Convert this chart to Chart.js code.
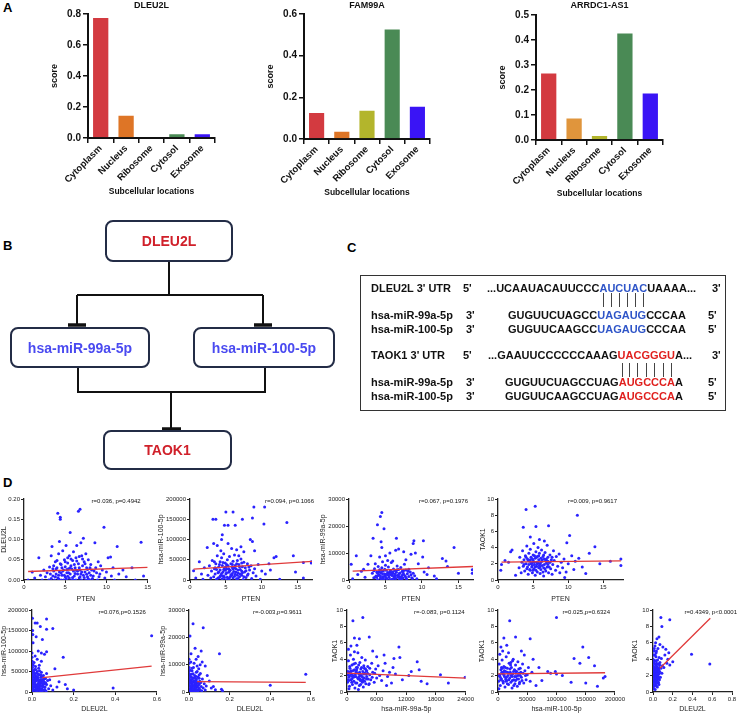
<!DOCTYPE html>
<html>
<head>
<meta charset="utf-8">
<script src="https://cdn.jsdelivr.net/npm/chart.js@4.4.0/dist/chart.umd.min.js"></script>
<style>
body { margin:0; width:739px; height:713px; position:relative; background:#fff; overflow:hidden; font-family:"Liberation Sans", Arial, sans-serif; }
canvas { position:absolute; }
.lbl { position:absolute; font-weight:bold; font-size:13px; color:#000; line-height:13px; }
.box { position:absolute; box-sizing:border-box; border:2.5px solid #232c46; border-radius:8px; display:flex; align-items:center; justify-content:center; font-weight:bold; font-size:14px; }
.seqbox { position:absolute; box-sizing:border-box; border:1.5px solid #333; }
.seq { position:absolute; font-weight:bold; font-size:11px; line-height:12px; white-space:pre; color:#111; }
.b { color:#2f55c8; }
.r { color:#e0201e; }
.pair { position:absolute; width:1px; background:#444; }
</style>
</head>
<body>

<div class="lbl" style="left:3px;top:1px">A</div>
<div class="lbl" style="left:3px;top:239px">B</div>
<div class="lbl" style="left:347px;top:241px">C</div>
<div class="lbl" style="left:3px;top:476px">D</div>

<!-- A: bar charts -->
<canvas id="barDleu" width="174" height="200" style="left:49px;top:0"></canvas>
<canvas id="barFam" width="173" height="200" style="left:265px;top:0"></canvas>
<canvas id="barArr" width="174" height="200" style="left:497px;top:0"></canvas>

<!-- B: regulatory axis -->
<svg width="739" height="713" style="position:absolute;left:0;top:0">
  <g stroke="#111" stroke-width="2" fill="none">
    <line x1="169" y1="261" x2="169" y2="295"/>
    <line x1="77" y1="295" x2="263" y2="295"/>
    <line x1="77" y1="295" x2="77" y2="324"/>
    <line x1="263" y1="295" x2="263" y2="324"/>
    <line x1="78" y1="367" x2="78" y2="392"/>
    <line x1="265" y1="367" x2="265" y2="392"/>
    <line x1="77" y1="392" x2="266" y2="392"/>
    <line x1="171" y1="392" x2="171" y2="428"/>
  </g>
  <g stroke="#111" stroke-width="3.5">
    <line x1="68" y1="325" x2="86" y2="325"/>
    <line x1="254" y1="325" x2="272" y2="325"/>
    <line x1="162" y1="429" x2="181" y2="429"/>
  </g>
</svg>
<div class="box" style="left:105px;top:220px;width:128px;height:42px;color:#d0202a">DLEU2L</div>
<div class="box" style="left:10px;top:327px;width:140px;height:41px;color:#4a4af0">hsa-miR-99a-5p</div>
<div class="box" style="left:193px;top:327px;width:142px;height:41px;color:#4a4af0">hsa-miR-100-5p</div>
<div class="box" style="left:103px;top:430px;width:129px;height:40px;color:#d0202a">TAOK1</div>

<!-- C: binding sites -->
<div class="seqbox" style="left:360px;top:275px;width:366px;height:136px"></div>
<div id="seqs"></div>

<!-- D: correlations -->
<canvas id="d1" width="152" height="111" style="left:0;top:492px"></canvas>
<canvas id="d2" width="159" height="111" style="left:157px;top:492px"></canvas>
<canvas id="d3" width="158" height="111" style="left:319px;top:492px"></canvas>
<canvas id="d4" width="148" height="111" style="left:479px;top:492px"></canvas>
<canvas id="e1" width="162" height="110" style="left:0;top:603px"></canvas>
<canvas id="e2" width="157" height="110" style="left:159px;top:603px"></canvas>
<canvas id="e3" width="144" height="110" style="left:331px;top:603px"></canvas>
<canvas id="e4" width="148" height="110" style="left:478px;top:603px"></canvas>
<canvas id="e5" width="108" height="110" style="left:631px;top:603px"></canvas>

<script>
// ---- A: subcellular location scores ----
const locations = ['Cytoplasm', 'Nucleus', 'Ribosome', 'Cytosol', 'Exosome'];
const dleu2lScore = [0.78, 0.15, 0.005, 0.03, 0.03];
const fam99aScore = [0.13, 0.04, 0.14, 0.53, 0.16];
const arrdc1Score = [0.27, 0.09, 0.02, 0.43, 0.19];

// ---- C: sequence rows: [label, end1, seq parts, end2] ----
const seqRows = [
    ['DLEU2L 3\' UTR', '5\'', [['...UCAAUACAUUCCC', ''], ['AUCUAC', 'b'], ['UAAAA...', '']], '3\''],
    ['hsa-miR-99a-5p', '3\'', [['GUGUUCUAGCC', ''], ['UAGAUG', 'b'], ['CCCAA', '']], '5\''],
    ['hsa-miR-100-5p', '3\'', [['GUGUUCAAGCC', ''], ['UAGAUG', 'b'], ['CCCAA', '']], '5\''],
    ['TAOK1 3\' UTR', '5\'', [['...GAAUUCCCCCCAAAG', ''], ['UACGGGU', 'r'], ['A...', '']], '3\''],
    ['hsa-miR-99a-5p', '3\'', [['GUGUUCUAGCCUAG', ''], ['AUGCCCA', 'r'], ['A', '']], '5\''],
    ['hsa-miR-100-5p', '3\'', [['GUGUUCAAGCCUAG', ''], ['AUGCCCA', 'r'], ['A', '']], '5\'']
];

// ---- D: correlation scatter data [x, y] ----
const ptenDleu2l = [
    [0.5,0.0],[1.0,0.02],[1.3,0.005],[1.8,0.055],[2.0,0.012],[2.2,0.0],[2.4,0.025],[2.6,0.008],[2.8,0.018],[3.0,0.0],
    [3.1,0.032],[3.3,0.06],[3.4,0.083],[3.5,0.01],[3.6,0.022],[3.7,0.0],[3.8,0.045],[3.9,0.015],[4.0,0.03],[4.1,0.165],
    [4.1,0.005],[4.2,0.065],[4.3,0.095],[4.3,0.02],[4.4,0.155],[4.4,0.15],[4.5,0.0],[4.5,0.038],[4.6,0.012],[4.7,0.072],
    [4.8,0.025],[4.8,0.0],[4.9,0.05],[5.0,0.008],[5.0,0.033],[5.1,0.085],[5.2,0.018],[5.2,0.0],[5.3,0.042],[5.4,0.028],
    [5.5,0.005],[5.5,0.06],[5.6,0.117],[5.6,0.015],[5.7,0.035],[5.8,0.0],[5.9,0.048],[6.0,0.022],[6.0,0.07],[6.1,0.01],
    [6.2,0.03],[6.3,0.0],[6.3,0.055],[6.4,0.085],[6.5,0.015],[6.6,0.17],[6.6,0.04],[6.7,0.005],[6.8,0.175],[6.8,0.025],
    [6.9,0.092],[7.0,0.0],[7.0,0.06],[7.1,0.035],[7.2,0.103],[7.2,0.012],[7.3,0.045],[7.4,0.02],[7.5,0.0],[7.5,0.065],
    [7.6,0.03],[7.7,0.008],[7.8,0.05],[7.9,0.018],[8.0,0.0],[8.1,0.038],[8.2,0.025],[8.4,0.01],[8.6,0.092],[8.7,0.03],
    [8.9,0.0],[9.0,0.045],[9.2,0.015],[9.5,0.025],[9.7,0.13],[9.8,0.005],[10.0,0.02],[10.2,0.055],[10.5,0.057],[10.6,0.01],
    [10.8,0.03],[11.0,0.0],[11.3,0.083],[11.5,0.015],[12.0,0.025],[12.4,0.008],[13.1,0.03],[13.5,0.0],[14.2,0.093],[14.5,0.01],
    [3.5,0.028],[4.2,0.012],[4.7,0.022],[5.1,0.004],[5.4,0.018],[5.8,0.027],[6.1,0.038],[6.5,0.022],[6.9,0.015],[7.3,0.006],
    [7.7,0.026],[8.3,0.004],[4.0,0.048],[5.3,0.055],[6.7,0.058],[3.2,0.015],[8.8,0.018],[9.3,0.035],
    [3.3,0.004],[3.6,0.035],[3.9,0.027],[4.2,0.003],[4.5,0.017],[4.9,0.012],[5.0,0.045],[5.3,0.009],[5.6,0.03],[5.9,0.006],
    [6.2,0.016],[6.4,0.047],[6.7,0.03],[7.0,0.02],[7.4,0.04],[7.8,0.003],[8.1,0.012],[8.5,0.022],[4.6,0.03],[5.7,0.052],
    [6.0,0.0],[6.8,0.008],[7.6,0.014],[3.8,0.008],[4.4,0.04],[5.2,0.026],[6.3,0.024],[7.1,0.052],[8.0,0.03],[9.1,0.008]
];
const ptenDleu2lFit = [[0.5, 0.021], [15, 0.031]];

const ptenMir100 = [
    [3.2,150000],[3.6,150000],[5.0,168000],[6.0,168000],[5.3,135000],[6.3,135000],[4.8,135000],[7.3,150000],[8.7,153000],[8.9,180000],
    [10.4,180000],[10.3,138000],[13.5,142000],[4.5,112000],[4.4,100000],[8.4,100000],[8.7,95000],[3.3,90000],[5.3,90000],[2.4,80000],
    [7.1,82000],[6.5,75000],[9.0,72000],[7.5,70000],[12.0,58000],[11.7,55000],[14.4,60000],[15.8,43000],[16.9,45000],[16.9,42000],
    [14.7,20000],[15.8,5000],[11.2,25000],[12.5,2000],[0.5,23000],[0.8,5000],[1.3,45000],[1.6,15000],[2.0,30000],[1.8,2000],
    [2.5,12000],[2.7,35000],[2.9,5000],[3.0,22000],[3.1,48000],[3.3,8000],[3.4,28000],[3.5,15000],[3.6,40000],[3.7,2000],
    [3.8,60000],[3.9,18000],[4.0,32000],[4.1,6000],[4.2,45000],[4.2,25000],[4.3,12000],[4.4,55000],[4.5,3000],[4.5,36000],
    [4.6,20000],[4.7,65000],[4.7,9000],[4.8,30000],[4.9,42000],[5.0,15000],[5.0,0],[5.1,27000],[5.2,50000],[5.2,7000],
    [5.3,35000],[5.4,19000],[5.5,58000],[5.5,2000],[5.6,24000],[5.7,40000],[5.8,11000],[5.9,31000],[6.0,46000],[6.0,5000],
    [6.1,21000],[6.2,62000],[6.3,14000],[6.3,36000],[6.4,28000],[6.5,3000],[6.6,48000],[6.7,17000],[6.8,38000],[6.9,8000],
    [7.0,26000],[7.1,52000],[7.2,12000],[7.3,33000],[7.4,1000],[7.5,44000],[7.6,20000],[7.7,30000],[7.8,6000],[8.0,40000],
    [8.1,15000],[8.3,25000],[8.5,35000],[8.6,4000],[8.8,18000],[9.0,28000],[9.2,10000],[9.5,38000],[9.8,2000],[10.0,22000],
    [10.5,15000],[11.0,40000],[4.3,72000],[5.8,78000],[3.8,85000],[6.8,60000],[4.0,20000],[4.6,10000],[5.1,38000],[5.6,8000],
    [6.2,30000],[6.7,4000],[7.2,22000],[3.4,45000],[5.9,16000],[4.9,24000],
    [3.5,30000],[3.9,5000],[4.1,38000],[4.4,16000],[4.7,26000],[5.0,33000],[5.3,4000],[5.5,22000],[5.7,13000],[6.0,27000],
    [6.2,9000],[6.5,40000],[6.7,25000],[7.0,15000],[7.2,42000],[7.5,8000],[7.8,23000],[8.2,32000],[4.8,6000],[5.9,38000],
    [6.6,12000],[7.3,18000],[4.2,9000],[5.1,18000],[6.4,20000],[3.7,26000],[8.0,12000],[4.6,43000],[5.4,28000],[6.9,33000]
];
const ptenMir100Fit = [[0.5, 27000], [17, 46000]];

const ptenMir99a = [
    [4.5,25000],[4.3,23500],[3.9,20500],[4.8,19000],[3.3,15500],[6.5,15500],[4.4,14200],[8.9,14500],[8.8,13500],[10.2,14500],
    [14.4,12000],[1.0,9000],[4.5,12000],[5.6,10000],[6.4,11000],[6.8,11500],[7.5,10500],[8.5,9500],[9.1,10000],[3.0,9000],
    [10.1,8500],[2.6,5800],[3.6,6000],[12.8,8000],[13.3,7000],[13.5,5000],[16.9,3800],[16.9,2500],[15.0,2500],[12.0,500],
    [11.7,1500],[10.7,2000],[0.3,5800],[0.5,500],[1.2,2000],[1.7,3200],[2.2,1000],[2.0,4000],[8.2,4000],[9.5,6000],
    [10.9,4500],[10.3,3000],[7.8,7500],
    [3.2,2500],[3.4,800],[3.5,4200],[3.7,1500],[3.8,3000],[3.9,200],[4.0,5000],[4.1,2000],[4.2,3800],[4.3,700],
    [4.4,2700],[4.5,4500],[4.6,1200],[4.7,3300],[4.8,100],[4.9,2200],[5.0,5500],[5.0,1600],[5.1,3600],[5.2,400],
    [5.3,2800],[5.4,4800],[5.5,1000],[5.6,3100],[5.7,2000],[5.8,6500],[5.9,300],[6.0,2400],[6.1,4100],[6.2,1400],
    [6.3,3500],[6.4,600],[6.5,2900],[6.6,5200],[6.7,1800],[6.8,3900],[6.9,200],[7.0,2600],[7.1,4600],[7.2,1100],
    [7.3,3200],[7.4,700],[7.5,2100],[7.6,5800],[7.7,1500],[7.8,3700],[7.9,400],[8.0,2300],[8.2,1300],[8.4,3000],
    [8.6,800],[8.8,2500],[9.0,1600],[9.3,500],[4.6,6800],[5.3,7200],[6.0,7000],[4.2,8500],[5.0,9000],[3.6,1000],
    [4.0,1700],[4.7,500],[5.5,2500],[6.2,900],[6.9,1300],[7.4,2800],[5.9,1700],[4.4,3500],
    [3.4,3400],[3.8,1100],[4.1,3000],[4.4,500],[4.6,2300],[4.9,4000],[5.1,800],[5.4,1800],[5.7,3400],[5.9,2600],
    [6.1,500],[6.4,1700],[6.6,3800],[6.9,2400],[7.2,300],[7.5,3500],[7.8,900],[8.1,3200],[8.5,1900],[4.3,1600],
    [5.2,2100],[6.0,3000],[6.7,1000],[7.3,1800],[3.9,2600],[4.8,1300],[5.6,200],[6.3,2200],[7.0,800],[8.7,600]
];
const ptenMir99aFit = [[0.5, 3300], [17, 5000]];

const ptenTaok1 = [
    [4.0,8.7],[5.3,9.1],[11.3,8.0],[5.4,6.6],[7.2,6.7],[3.6,6.5],[10.2,5.5],[4.6,5.3],[5.9,5.0],[6.6,4.8],
    [9.8,4.6],[13.8,4.1],[13.0,3.3],[17.5,2.6],[17.5,1.8],[2.0,3.7],[1.0,2.4],[0.5,1.9],[0.4,1.2],[1.5,2.2],
    [16.0,2.3],[14.5,2.0],[12.5,0.8],[12.0,1.6],[11.5,2.7],[9.5,0.3],[2.5,0.6],[1.8,3.5],
    [3.0,1.5],[3.1,2.8],[3.3,0.9],[3.4,2.2],[3.5,3.6],[3.6,1.7],[3.7,2.5],[3.8,1.1],[3.9,3.0],[4.0,2.0],
    [4.1,4.2],[4.1,1.4],[4.2,2.6],[4.3,0.7],[4.4,3.3],[4.4,1.9],[4.5,2.3],[4.6,1.2],[4.6,3.8],[4.7,2.8],
    [4.8,1.6],[4.8,2.1],[4.9,0.9],[5.0,3.1],[5.0,2.4],[5.1,1.4],[5.1,4.5],[5.2,1.9],[5.3,2.7],[5.3,0.6],
    [5.4,3.5],[5.5,1.7],[5.5,2.2],[5.6,1.0],[5.6,2.9],[5.7,4.0],[5.8,1.5],[5.8,2.5],[5.9,3.3],[6.0,0.8],
    [6.0,2.0],[6.1,1.3],[6.2,3.7],[6.2,2.3],[6.3,1.8],[6.4,2.9],[6.5,0.5],[6.5,1.5],[6.6,2.6],[6.7,3.4],
    [6.8,1.1],[6.9,2.1],[7.0,4.3],[7.0,1.6],[7.1,2.8],[7.2,0.9],[7.3,2.2],[7.4,3.1],[7.5,1.4],[7.6,2.5],
    [7.7,0.7],[7.8,1.9],[7.9,3.6],[8.0,2.4],[8.2,1.2],[8.3,2.9],[8.5,1.7],[8.7,3.2],[8.8,0.9],[9.0,2.2],
    [9.2,1.5],[9.4,2.6],[9.7,1.0],[10.0,2.0],[10.5,3.0],[10.8,1.3],[11.0,2.3],[4.3,2.4],[4.9,1.8],[5.2,3.0],
    [5.7,2.1],[6.1,2.7],[6.6,1.9],[7.1,2.3],[5.4,1.2],[6.4,1.0],
    [3.7,1.9],[4.0,2.8],[4.2,1.6],[4.5,1.3],[4.7,2.0],[4.9,2.6],[5.1,2.2],[5.3,1.6],[5.6,2.0],[5.8,3.0],
    [6.0,1.6],[6.3,2.5],[6.5,3.1],[6.7,1.4],[6.9,2.6],[7.1,1.9],[7.4,2.2],[7.7,2.8],[4.6,2.5],[5.5,2.8],
    [6.1,2.2],[6.8,2.4],[7.3,1.6],[5.0,1.2],[5.9,1.8]
];
const ptenTaok1Fit = [[0.5, 2.2], [17.5, 2.35]];

const dleu2lMir100 = [
    [0.002,180000],[0.07,178000],[0.015,168000],[0.025,168000],[0.04,160000],[0.07,153000],[0.1,155000],[0.003,150000],[0.02,135000],[0.005,120000],
    [0.05,128000],[0.004,140000],[0.07,98000],[0.06,92000],[0.045,95000],[0.15,85000],[0.11,57000],[0.575,137000],[0.39,10000],[0.16,18000],
    [0.13,25000],[0.17,8000],[0.2,5000],[0.1,5000],[0.12,12000],[0.085,30000],[0.09,15000],[0.07,45000],[0.06,20000],
    [0.0,95000],[0.0,85000],[0.001,75000],[0.0,68000],[0.002,60000],[0.0,55000],[0.001,48000],[0.0,42000],[0.003,38000],[0.0,33000],
    [0.001,28000],[0.0,22000],[0.002,18000],[0.0,12000],[0.001,8000],[0.0,3000],[0.0,0],
    [0.005,52000],[0.008,30000],[0.01,12000],[0.012,45000],[0.014,5000],[0.015,25000],[0.017,62000],[0.018,18000],[0.02,38000],[0.022,2000],
    [0.023,28000],[0.025,50000],[0.027,10000],[0.028,34000],[0.03,20000],[0.032,58000],[0.033,6000],[0.035,42000],[0.037,15000],[0.038,26000],
    [0.04,1000],[0.042,36000],[0.044,22000],[0.045,48000],[0.047,8000],[0.05,30000],[0.052,16000],[0.055,40000],[0.057,4000],[0.06,24000],
    [0.063,12000],[0.065,33000],[0.068,2000],[0.07,18000],[0.075,28000],[0.08,8000],[0.01,72000],[0.025,80000],[0.035,65000],[0.045,75000],
    [0.015,88000],[0.03,100000],[0.008,20000],[0.012,35000],[0.02,8000],[0.028,14000],[0.018,55000],[0.04,30000],
    [0.003,25000],[0.004,45000],[0.006,10000],[0.007,38000],[0.009,4000],[0.011,22000],[0.013,55000],[0.016,32000],[0.019,12000],[0.021,46000],
    [0.024,16000],[0.026,38000],[0.029,5000],[0.031,30000],[0.034,11000],[0.036,52000],[0.039,19000],[0.041,8000],[0.043,42000],[0.046,26000],
    [0.049,3000],[0.051,21000],[0.054,12000],[0.058,32000],[0.062,6000],[0.066,22000],[0.006,65000],[0.012,15000],[0.02,28000],[0.033,24000],
    [0.015,42000],[0.025,3000],[0.044,14000],[0.009,48000],[0.055,27000],[0.003,5000],[0.018,34000],[0.03,44000],[0.038,2000],[0.048,36000]
];
const dleu2lMir100Fit = [[0.05, 35000], [0.575, 63000]];

const dleu2lMir99a = [
    [0.005,20500],[0.02,25000],[0.07,23500],[0.15,14000],[0.08,9500],[0.575,6500],[0.4,2500],[0.16,1000],[0.165,500],[0.12,2000],
    [0.1,4000],[0.06,15000],[0.045,13000],[0.065,11000],[0.03,16000],[0.01,14000],[0.09,6000],[0.11,1500],[0.13,800],
    [0.0,12000],[0.0,10500],[0.001,9000],[0.0,7500],[0.002,6000],[0.0,5000],[0.001,3500],[0.0,2500],[0.0,1200],[0.001,300],
    [0.005,8000],[0.008,4500],[0.01,1500],[0.012,6500],[0.014,3000],[0.016,500],[0.018,5200],[0.02,2200],[0.022,9000],[0.024,3800],
    [0.026,1000],[0.028,6000],[0.03,2800],[0.032,200],[0.034,4200],[0.036,7200],[0.038,1800],[0.04,3400],[0.042,600],[0.044,5500],
    [0.046,2500],[0.048,8500],[0.05,1200],[0.053,3900],[0.056,6800],[0.06,2000],[0.063,400],[0.066,4800],[0.07,1500],[0.075,3000],
    [0.08,700],[0.085,2200],[0.009,11000],[0.025,10500],[0.04,9500],[0.015,7800],[0.035,12000],[0.055,10000],[0.006,2000],[0.012,3800],
    [0.02,6700],[0.028,1800],[0.05,5000],[0.003,4200],[0.007,900],[0.017,2600],[0.033,5800],[0.045,300],
    [0.003,6500],[0.006,3200],[0.009,5600],[0.011,2400],[0.013,900],[0.015,4600],[0.017,1500],[0.019,3500],[0.021,5000],[0.023,300],
    [0.025,2300],[0.027,4100],[0.029,900],[0.031,3300],[0.033,1500],[0.035,2600],[0.037,4800],[0.039,600],[0.041,2200],[0.043,3700],
    [0.047,1600],[0.051,2900],[0.055,800],[0.058,3500],[0.01,400],[0.02,1200],[0.03,5200],[0.04,7500],[0.05,6200],[0.015,8700]
];
const dleu2lMir99aFit = [[0.04, 3800], [0.575, 3500]];

const mir99aTaok1 = [
    [1200,8.7],[3200,9.1],[4500,6.7],[1500,6.6],[2500,6.5],[10500,5.5],[800,5.6],[2000,5.7],[14200,3.7],[9500,4.1],
    [10700,4.2],[13000,2.5],[14600,2.7],[18900,2.1],[20500,1.1],[23900,1.8],[16200,1.0],[15000,1.3],[12500,2.0],[11200,1.5],
    [8000,0.8],[7500,4.5],[6000,4.3],[5200,5.0],
    [100,1.2],[200,2.5],[300,3.8],[400,1.8],[500,0.7],[600,2.9],[700,4.5],[800,1.5],[900,2.2],[1000,3.3],
    [1100,0.9],[1200,2.0],[1300,4.0],[1400,1.3],[1500,2.7],[1600,0.5],[1700,3.5],[1800,1.9],[1900,2.4],[2000,1.1],
    [2100,3.0],[2200,4.8],[2300,1.6],[2400,2.2],[2500,0.8],[2600,3.6],[2700,1.4],[2800,2.8],[2900,2.0],[3000,4.2],
    [3100,1.2],[3200,2.5],[3300,0.6],[3400,3.2],[3500,1.7],[3600,2.3],[3700,3.9],[3800,1.0],[3900,2.6],[4000,1.9],
    [4200,3.1],[4400,0.9],[4600,2.1],[4800,1.5],[5000,3.5],[5200,2.4],[5500,1.2],[5800,2.8],[6000,1.7],[6300,3.2],
    [6600,2.0],[7000,1.4],[7300,2.6],[7700,3.5],[8200,1.9],[8600,2.4],[9000,1.1],[9300,3.0],[9800,2.2],[300,5.2],
    [1500,4.9],[600,2.0],[1000,1.6],[1900,3.0],[2700,2.1],[3500,2.9],[400,0.4],[2300,0.3],[4500,1.0],[200,1.5],
    [800,2.6],[1300,1.8],[1700,2.2],[2600,1.6],[3000,1.4],[3800,2.2],[4300,1.6],
    [150,2.1],[350,1.4],[550,3.1],[750,2.3],[950,1.2],[1150,2.6],[1350,3.4],[1550,1.9],[1750,1.1],[1950,2.7],
    [2150,1.7],[2350,3.3],[2550,2.4],[2750,0.9],[2950,3.0],[3150,1.8],[3350,2.2],[3550,1.3],[3750,2.8],[3950,1.6],
    [4150,2.3],[4600,2.9],[5100,1.8],[5600,2.3],[500,2.4],[1100,1.9],[1800,2.5],[2500,1.9],[3200,1.5],[4000,2.6]
];
const mir99aTaok1Fit = [[0, 2.3], [24000, 1.7]];

const mir100Taok1 = [
    [20000,8.7],[100000,9.1],[30000,6.7],[55000,6.5],[10000,6.6],[145000,5.5],[155000,4.2],[130000,4.1],[140000,3.5],[165000,3.2],
    [183000,1.9],[180000,1.7],[170000,0.7],[150000,1.1],[125000,1.2],[85000,2.5],[90000,2.3],[98000,2.5],[110000,2.0],[70000,3.0],
    [75000,1.4],[65000,0.8],[100000,2.2],[60000,4.0],[45000,4.5],[40000,5.0],[15000,5.7],[5000,5.5],
    [1000,1.3],[2000,3.4],[3000,2.1],[4000,0.8],[5000,2.7],[6000,1.6],[7000,3.9],[8000,2.2],[9000,1.1],[10000,3.1],
    [11000,1.9],[12000,0.6],[13000,2.5],[14000,4.3],[15000,1.4],[16000,2.9],[17000,2.0],[18000,0.9],[19000,3.5],[20000,1.7],
    [21000,2.4],[22000,1.2],[23000,3.0],[24000,0.5],[25000,2.2],[26000,4.0],[27000,1.5],[28000,2.7],[29000,1.0],[30000,3.3],
    [31000,1.9],[32000,2.5],[33000,0.7],[34000,3.7],[35000,1.6],[36000,2.3],[37000,1.2],[38000,2.9],[40000,1.8],[42000,3.4],
    [44000,1.1],[46000,2.6],[48000,1.5],[50000,2.1],[52000,3.0],[55000,1.3],[58000,2.4],[3000,4.6],[8000,5.0],[18000,4.8],
    [25000,3.8],[500,2.0],[1500,0.4],[6000,3.0],[11000,2.6],[16000,1.0],[22000,3.6],[27000,0.8],[34000,2.0],[43000,2.3],
    [4000,1.8],[9000,2.4],[13000,1.6],[20000,2.3],[24000,1.9],[30000,1.4],[38000,2.0],
    [2500,2.0],[4500,1.5],[6500,2.4],[8500,1.3],[10500,2.1],[12500,3.0],[14500,1.8],[16500,2.4],[18500,1.5],[20500,2.8],
    [22500,2.0],[24500,1.4],[26500,2.5],[28500,1.9],[30500,2.3],[32500,1.6],[35500,2.8],[39000,2.4],[41000,1.4],[47000,2.0],
    [7500,2.9],[13500,1.3],[21500,3.3],[29500,2.6],[36500,1.0]
];
const mir100Taok1Fit = [[0, 2.2], [183000, 2.35]];

const dleu2lTaok1 = [
    [0.575,3.4],[0.39,4.6],[0.17,8.8],[0.08,9.1],[0.14,3.5],[0.15,4.0],[0.12,4.5],[0.1,5.5],[0.07,5.8],[0.06,6.7],
    [0.04,6.5],[0.05,5.3],[0.09,8.0],[0.13,5.2],[0.16,4.8],[0.11,3.0],[0.17,3.3],[0.2,3.7],
    [0.0,0.5],[0.0,1.5],[0.0,2.4],[0.001,3.2],[0.0,4.0],[0.002,0.9],[0.003,1.8],[0.005,2.7],[0.006,0.4],[0.008,3.6],
    [0.01,1.2],[0.012,2.1],[0.014,4.5],[0.015,0.7],[0.017,2.9],[0.019,1.6],[0.02,3.8],[0.022,0.3],[0.024,2.3],[0.026,1.0],
    [0.028,3.3],[0.03,1.9],[0.032,4.8],[0.034,0.8],[0.036,2.6],[0.038,1.4],[0.04,3.1],[0.042,2.0],[0.044,0.6],[0.046,3.9],
    [0.048,1.7],[0.05,2.8],[0.052,1.1],[0.055,3.4],[0.058,2.2],[0.06,0.9],[0.062,4.2],[0.065,1.5],[0.068,2.5],[0.07,3.6],
    [0.075,1.8],[0.08,2.9],[0.085,4.1],[0.09,2.3],[0.095,3.2],[0.01,5.0],[0.02,5.6],[0.03,4.3],[0.005,3.9],[0.015,1.3],
    [0.025,2.6],[0.035,3.5],[0.045,2.4],[0.055,1.2],[0.065,3.0],[0.008,2.2],[0.018,1.9],[0.028,2.1],[0.038,2.4],[0.012,3.0],
    [0.002,2.0],[0.004,1.3],[0.006,3.0],[0.009,0.8],[0.011,2.5],[0.013,1.5],[0.016,3.4],[0.018,2.7],[0.021,1.2],[0.023,3.0],
    [0.027,1.7],[0.029,2.6],[0.031,1.2],[0.033,3.8],[0.037,2.0],[0.039,2.9],[0.041,1.6],[0.043,2.6],[0.047,2.1],[0.049,3.4],
    [0.053,1.9],[0.057,2.7],[0.061,1.7],[0.064,2.3],[0.067,3.3],[0.004,4.5],[0.012,5.3],[0.022,4.5],[0.026,6.0],[0.035,5.0]
];
const dleu2lTaok1Fit = [[0.07, 2.9], [0.58, 9.0]];

Chart.defaults.font.family = '"Liberation Sans", Arial, sans-serif';
Chart.defaults.color = '#111';
Chart.defaults.animation = false;

// texto extra: titulo do painel e estatistica no canto
Chart.register({
    id: 'panelText',
    afterDraw(chart, args, o) {
        const { ctx, chartArea } = chart;
        ctx.save();
        ctx.fillStyle = '#111';
        if (o.title) {
            ctx.font = 'bold 9px "Liberation Sans", Arial';
            ctx.textAlign = 'center';
            ctx.textBaseline = 'middle';
            ctx.fillText(o.title, (chartArea.left + chartArea.right) / 2, 6);
        }
        if (o.stat) {
            ctx.font = '6px "Liberation Sans", Arial';
            ctx.textAlign = 'right';
            ctx.textBaseline = 'middle';
            ctx.fillText(o.stat, chartArea.right - (o.dx || 0), chartArea.top + 2);
        }
        ctx.restore();
    }
});

function barChart(id, title, values, colors, max, step, padTop, padBottom) {
    new Chart(document.getElementById(id), {
        type: 'bar',
        data: {
            labels: locations,
            datasets: [{
                data: values,
                backgroundColor: colors,
                borderColor: 'rgba(255,255,255,0.55)',
                borderWidth: 1,
                barPercentage: 0.68,
                categoryPercentage: 1
            }]
        },
        options: {
            responsive: false,
            layout: { padding: { top: padTop, right: 8, bottom: padBottom, left: 0 } },
            plugins: { legend: { display: false }, tooltip: { enabled: false }, panelText: { title } },
            scales: {
                x: {
                    grid: { drawOnChartArea: false, tickLength: 5, color: '#111', lineWidth: 1.5 },
                    border: { color: '#111', width: 2 },
                    ticks: { maxRotation: 45, minRotation: 45, font: { size: 9.5, weight: 'bold' }, padding: 0 },
                    title: { display: true, text: 'Subcellular locations', font: { size: 8.5, weight: 'bold' }, padding: 0 },
                    afterFit: s => { s.height = 59; }
                },
                y: {
                    min: 0, max,
                    ticks: { stepSize: step, font: { size: 10, weight: 'bold' }, padding: 2, callback: v => v.toFixed(1) },
                    grid: { drawOnChartArea: false, tickLength: 5, color: '#111', lineWidth: 1.5 },
                    border: { color: '#111', width: 2 },
                    title: { display: true, text: 'score', font: { size: 9, weight: 'bold' }, padding: 0 },
                    afterFit: s => { s.width = 39; }
                }
            }
        }
    });
}

const barColors = ['#d33a40', '#de7526', '#b3b52c', '#4a8a55', '#3a14f5'];
const barColorsArr = ['#d33a40', '#e0953c', '#b3b52c', '#4a8a55', '#3a14f5'];
barChart('barDleu', 'DLEU2L', dleu2lScore, barColors, 0.8, 0.2, 14, 3);
barChart('barFam', 'FAM99A', fam99aScore, barColors, 0.6, 0.2, 14, 2);
barChart('barArr', 'ARRDC1-AS1', arrdc1Score, barColorsArr, 0.5, 0.1, 15, 1);

function axis(min, max, step, dec, title, fit) {
    return {
        type: 'linear', min, max,
        ticks: { stepSize: step, includeBounds: false, font: { size: 6 }, padding: 1, color: '#222',
                 callback: v => dec ? v.toFixed(dec) : String(v) },
        grid: { drawOnChartArea: false, tickLength: 3, color: '#222', lineWidth: 1 },
        border: { color: '#222', width: 1.3 },
        title: { display: true, text: title, font: { size: 7 }, padding: 0, color: '#222' },
        afterFit: fit
    };
}

function scatter(id, pts, fit, xs, ys, stat, dx, yw, xh, padRight) {
    new Chart(document.getElementById(id), {
        type: 'scatter',
        data: {
            datasets: [
                { data: fit.map(p => ({ x: p[0], y: p[1] })), showLine: true, borderColor: '#e03a3a',
                  borderWidth: 1.3, pointRadius: 0 },
                { data: pts.map(p => ({ x: p[0], y: p[1] })), backgroundColor: '#2a22ff',
                  borderWidth: 0, pointRadius: 1.5 }
            ]
        },
        options: {
            responsive: false,
            layout: { padding: { top: 7, right: padRight, bottom: 0, left: 0 } },
            plugins: { legend: { display: false }, tooltip: { enabled: false }, panelText: { stat, dx } },
            scales: {
                x: axis(xs[0], xs[1], xs[2], xs[3], xs[4], s => { s.height = xh; }),
                y: axis(ys[0], ys[1], ys[2], ys[3], ys[4], s => { s.width = yw; })
            }
        }
    });
}

const ptenAxis = [0, 17, 5, 0, 'PTEN'];
scatter('d1', ptenDleu2l, ptenDleu2lFit, [0, 15, 5, 0, 'PTEN'], [0, 0.2, 0.05, 2, 'DLEU2L'], 'r=0.036, p=0.4942', 7, 24, 23, 4);
scatter('d2', ptenMir100, ptenMir100Fit, ptenAxis, [0, 200000, 50000, 0, 'hsa-miR-100-5p'], 'r=0.094, p=0.1066', -2, 33, 23, 4);
scatter('d3', ptenMir99a, ptenMir99aFit, ptenAxis, [0, 30000, 10000, 0, 'hsa-miR-99a-5p'], 'r=0.067, p=0.1976', 5, 30, 23, 4);
scatter('d4', ptenTaok1, ptenTaok1Fit, [0, 17.8, 5, 0, 'PTEN'], [0, 10, 2, 0, 'TAOK1'], 'r=0.009, p=0.9617', 6, 19, 23, 4);
scatter('e1', dleu2lMir100, dleu2lMir100Fit, [0, 0.6, 0.2, 1, 'DLEU2L'], [0, 200000, 50000, 0, 'hsa-miR-100-5p'], 'r=0.076,p=0.1526', 11, 32, 21, 4);
scatter('e2', dleu2lMir99a, dleu2lMir99aFit, [0, 0.6, 0.2, 1, 'DLEU2L'], [0, 30000, 10000, 0, 'hsa-miR-99a-5p'], 'r=-0.003,p=0.9611', 9, 30, 21, 4);
scatter('e3', mir99aTaok1, mir99aTaok1Fit, [0, 24000, 6000, 0, 'hsa-miR-99a-5p'], [0, 10, 2, 0, 'TAOK1'], 'r=-0.083, p=0.1124', 1, 16, 21, 4);
scatter('e4', mir100Taok1, mir100Taok1Fit, [0, 200000, 50000, 0, 'hsa-miR-100-5p'], [0, 10, 2, 0, 'TAOK1'], 'r=0.025,p=0.6324', 5, 20, 21, 4);
scatter('e5', dleu2lTaok1, dleu2lTaok1Fit, [0, 0.8, 0.2, 1, 'DLEU2L'], [0, 10, 2, 0, 'TAOK1'], 'r=0.4349, p<0.0001', -5, 22, 21, 7);

// ---- C: monta as linhas de sequencia ----
const rowTop = [282, 309, 323, 349, 376, 390];
const colX = { label: 371, end1: [463, 466, 466, 463, 466, 466], seq: [487, 508, 508, 488, 505, 505], end2: [712, 708, 708, 712, 708, 708] };
const host = document.getElementById('seqs');
function put(x, y, html) {
    const d = document.createElement('div');
    d.className = 'seq';
    d.style.left = x + 'px';
    d.style.top = y + 'px';
    d.innerHTML = html;
    host.appendChild(d);
    return d;
}
const hiRows = [];
seqRows.forEach((row, i) => {
    put(colX.label, rowTop[i], row[0]);
    put(colX.end1[i], rowTop[i], row[1]);
    const html = row[2].map(([t, c]) => c ? t.split('').map(ch => `<span class="${c} h">${ch}</span>`).join('') : t).join('');
    hiRows.push(put(colX.seq[i], rowTop[i], html));
    put(colX.end2[i], rowTop[i], row[3]);
});
// tracos de pareamento sob as letras destacadas
[[0, 293, 307], [3, 363, 377]].forEach(([ri, y1, y2]) => {
    hiRows[ri].querySelectorAll('.h').forEach(sp => {
        const r = sp.getBoundingClientRect();
        const bar = document.createElement('div');
        bar.className = 'pair';
        bar.style.left = Math.round(r.left + r.width / 2) + 'px';
        bar.style.top = y1 + 'px';
        bar.style.height = (y2 - y1) + 'px';
        host.appendChild(bar);
    });
});
</script>
</body>
</html>
